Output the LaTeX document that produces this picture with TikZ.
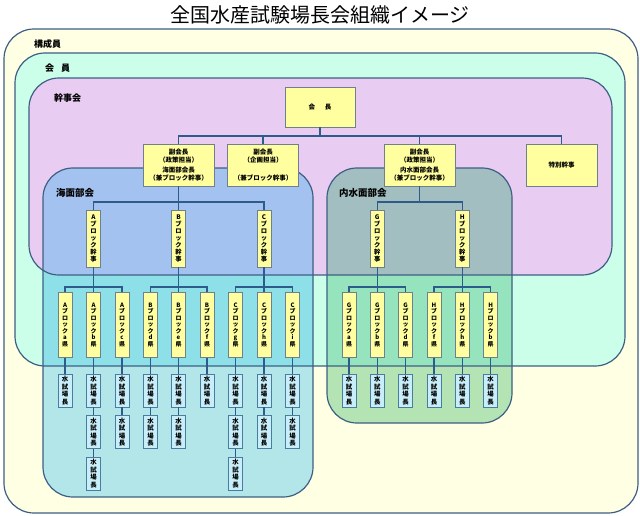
\documentclass[tikz,border=0pt]{standalone}
\usepackage{fontspec}
\setmainfont{Noto Sans CJK JP}
\definecolor{frameC}{HTML}{3E5F84}
\definecolor{connC}{HTML}{2E5C8A}
\definecolor{yboxF}{HTML}{FFFFA0}
\definecolor{yboxB}{HTML}{6E7F90}
\definecolor{stnF}{HTML}{C8EEFA}
\definecolor{stnB}{HTML}{4A7BA0}
\definecolor{outerF}{HTML}{FFFFE4}
\definecolor{kaiinF}{HTML}{CCFFEA}
\definecolor{kanjiF}{HTML}{E8CCF2}
\definecolor{seaY}{HTML}{B2E6E8}
\definecolor{seaM}{HTML}{8EE0E8}
\definecolor{seaL}{HTML}{A4C2F0}
\definecolor{inY}{HTML}{B4E4B4}
\definecolor{inM}{HTML}{96E4BE}
\definecolor{inL}{HTML}{A2BEC0}
\begin{document}
\begin{tikzpicture}[x=1pt,y=-1pt,
  frame/.style={draw=frameC, line width=1.2pt, rounded corners=30pt},
  ybox/.style={draw=yboxB, fill=yboxF, line width=0.7pt, inner sep=0pt, align=center, font=\bfseries\fontsize{6.5}{8}\selectfont},
  vp/.style={ybox, minimum width=71pt, minimum height=42pt},
  blk/.style={ybox, minimum width=14pt, minimum height=57pt, font=\bfseries\fontsize{6.3}{7.1}\selectfont},
  pref/.style={ybox, minimum width=14pt, minimum height=65pt, font=\bfseries\fontsize{6}{6.5}\selectfont},
  stn/.style={draw=stnB, fill=stnF, line width=0.7pt, inner sep=0pt, minimum width=14pt, minimum height=33pt, align=center, font=\bfseries\fontsize{6.4}{7.6}\selectfont},
  conn/.style={draw=connC, line width=1.3pt},
  lbl/.style={anchor=west, inner sep=0pt, font=\bfseries\fontsize{9}{10}\selectfont},
  sublbl/.style={anchor=west, inner sep=0pt, font=\bfseries\fontsize{9.5}{10}\selectfont}
]
\useasboundingbox (0,0) rectangle (640,515);
\fill[white] (0,0) rectangle (640,515);

% region fills
\fill[outerF, rounded corners=30pt] (4,29) rectangle (638,513);
\fill[kaiinF, rounded corners=30pt] (15,53) rectangle (625,366);
\fill[kanjiF, rounded corners=30pt] (29,78) rectangle (612,275);
\fill[seaY, rounded corners=30pt] (43,168) rectangle (313,497);
\fill[inY, rounded corners=30pt] (327,168) rectangle (512,423);
\begin{scope}
  \clip[rounded corners=30pt] (15,53) rectangle (625,366);
  \fill[seaM, rounded corners=30pt] (43,168) rectangle (313,497);
  \fill[inM, rounded corners=30pt] (327,168) rectangle (512,423);
\end{scope}
\begin{scope}
  \clip[rounded corners=30pt] (29,78) rectangle (612,275);
  \fill[seaL, rounded corners=30pt] (43,168) rectangle (313,497);
  \fill[inL, rounded corners=30pt] (327,168) rectangle (512,423);
\end{scope}
% region borders
\draw[frame] (4,29) rectangle (638,513);
\draw[frame] (15,53) rectangle (625,366);
\draw[frame] (29,78) rectangle (612,275);
\draw[frame] (43,168) rectangle (313,497);
\draw[frame] (327,168) rectangle (512,423);

% title and region labels
\node (title) at (320,15) {\fontsize{20}{22}\selectfont 全国水産試験場長会組織イメージ};
\node[lbl] (lkosei) at (34,44) {構成員};
\node[lbl] (lkaiin) at (45,68) {会\hspace{7pt}員};
\node[lbl] (lkanji) at (54,98) {幹事会};
\node[sublbl] (lsea) at (56,193) {海面部会};
\node[sublbl] (lin) at (339,193) {内水面部会};

% top nodes
\node[ybox, minimum width=70pt, minimum height=40pt] (kaicho) at (320,107) {会\hspace{10pt}長};
\node[vp] (vp1) at (178.5,165) {副会長\\（政策担当）\\[1.5pt]海面部会長\\（兼ブロック幹事）};
\node[vp] (vp2) at (263,165) {副会長\\（企画担当）\\[1.5pt]\mbox{}\\（兼ブロック幹事）};
\node[vp] (vp3) at (419.5,165) {副会長\\（政策担当）\\[1.5pt]内水面部会長\\（兼ブロック幹事）};
\node[vp] (tok) at (561.5,165) {特別幹事};

% block nodes
\node[blk] (bA) at (93.5,238.5) {A\\ブ\\ロ\\ッ\\ク\\幹\\事};
\node[blk] (bB) at (178.5,238.5) {B\\ブ\\ロ\\ッ\\ク\\幹\\事};
\node[blk] (bC) at (264,238.5) {C\\ブ\\ロ\\ッ\\ク\\幹\\事};
\node[blk] (bG) at (377.3,238.5) {G\\ブ\\ロ\\ッ\\ク\\幹\\事};
\node[blk] (bH) at (462.3,238.5) {H\\ブ\\ロ\\ッ\\ク\\幹\\事};

% prefecture nodes
\node[pref] (pa) at (65,325) {A\\ブ\\ロ\\ッ\\ク\\a\\県};
\node[pref] (pb) at (93.5,325) {A\\ブ\\ロ\\ッ\\ク\\b\\県};
\node[pref] (pc) at (122,325) {A\\ブ\\ロ\\ッ\\ク\\c\\県};
\node[pref] (pd) at (150.5,325) {B\\ブ\\ロ\\ッ\\ク\\d\\県};
\node[pref] (pe) at (178.5,325) {B\\ブ\\ロ\\ッ\\ク\\e\\県};
\node[pref] (pf) at (207,325) {B\\ブ\\ロ\\ッ\\ク\\f\\県};
\node[pref] (pg) at (235.5,325) {C\\ブ\\ロ\\ッ\\ク\\g\\県};
\node[pref] (ph) at (264,325) {C\\ブ\\ロ\\ッ\\ク\\h\\県};
\node[pref] (pi) at (292.5,325) {C\\ブ\\ロ\\ッ\\ク\\i\\県};
\node[pref] (qa) at (349,325) {G\\ブ\\ロ\\ッ\\ク\\a\\県};
\node[pref] (qb) at (377.3,325) {G\\ブ\\ロ\\ッ\\ク\\b\\県};
\node[pref] (qd) at (405.6,325) {G\\ブ\\ロ\\ッ\\ク\\d\\県};
\node[pref] (qf) at (434,325) {H\\ブ\\ロ\\ッ\\ク\\f\\県};
\node[pref] (qh) at (462.3,325) {H\\ブ\\ロ\\ッ\\ク\\h\\県};
\node[pref] (qk) at (490.6,325) {H\\ブ\\ロ\\ッ\\ク\\b\\県};

% station nodes, row 1
\node[stn] (sa1) at (65,390.5) {水\\試\\場\\長};
\node[stn] (sb1) at (93.5,390.5) {水\\試\\場\\長};
\node[stn] (sc1) at (122,390.5) {水\\試\\場\\長};
\node[stn] (sd1) at (150.5,390.5) {水\\試\\場\\長};
\node[stn] (se1) at (178.5,390.5) {水\\試\\場\\長};
\node[stn] (sf1) at (207,390.5) {水\\試\\場\\長};
\node[stn] (sg1) at (235.5,390.5) {水\\試\\場\\長};
\node[stn] (sh1) at (264,390.5) {水\\試\\場\\長};
\node[stn] (si1) at (292.5,390.5) {水\\試\\場\\長};
\node[stn] (ta1) at (349,390.5) {水\\試\\場\\長};
\node[stn] (tb1) at (377.3,390.5) {水\\試\\場\\長};
\node[stn] (td1) at (405.6,390.5) {水\\試\\場\\長};
\node[stn] (tf1) at (434,390.5) {水\\試\\場\\長};
\node[stn] (th1) at (462.3,390.5) {水\\試\\場\\長};
\node[stn] (tk1) at (490.6,390.5) {水\\試\\場\\長};
% row 2
\node[stn] (sb2) at (93.5,432) {水\\試\\場\\長};
\node[stn] (sc2) at (122,432) {水\\試\\場\\長};
\node[stn] (sd2) at (150.5,432) {水\\試\\場\\長};
\node[stn] (se2) at (178.5,432) {水\\試\\場\\長};
\node[stn] (sg2) at (235.5,432) {水\\試\\場\\長};
\node[stn] (sh2) at (264,432) {水\\試\\場\\長};
\node[stn] (si2) at (292.5,432) {水\\試\\場\\長};
% row 3
\node[stn] (sb3) at (93.5,473.5) {水\\試\\場\\長};
\node[stn] (sg3) at (235.5,473.5) {水\\試\\場\\長};

% connectors: president to vice presidents
\foreach \t in {vp1,vp2,vp3,tok}
  \draw[conn] (kaicho.south) -- ++(0,8.5) -| (\t.north);
% vice presidents to blocks
\foreach \t in {bA,bB,bC}
  \draw[conn] (vp1.south) -- ++(0,15.7) -| (\t.north);
\foreach \t in {bG,bH}
  \draw[conn] (vp3.south) -- ++(0,15.7) -| (\t.north);
% blocks to prefectures
\foreach \t in {pa,pb,pc}
  \draw[conn] (bA.south) -- ++(0,19.7) -| (\t.north);
\foreach \t in {pd,pe,pf}
  \draw[conn] (bB.south) -- ++(0,19.7) -| (\t.north);
\foreach \t in {pg,ph,pi}
  \draw[conn] (bC.south) -- ++(0,19.7) -| (\t.north);
\foreach \t in {qa,qb,qd}
  \draw[conn] (bG.south) -- ++(0,19.7) -| (\t.north);
\foreach \t in {qf,qh,qk}
  \draw[conn] (bH.south) -- ++(0,19.7) -| (\t.north);
% prefectures to stations
\foreach \p/\s in {pa/sa1,pb/sb1,pc/sc1,pd/sd1,pe/se1,pf/sf1,pg/sg1,ph/sh1,pi/si1,qa/ta1,qb/tb1,qd/td1,qf/tf1,qh/th1,qk/tk1}
  \draw[conn] (\p.south) -- (\s.north);
\foreach \a/\b in {sb1/sb2,sc1/sc2,sd1/sd2,se1/se2,sg1/sg2,sh1/sh2,si1/si2,sb2/sb3,sg2/sg3}
  \draw[conn] (\a.south) -- (\b.north);
\end{tikzpicture}
\end{document}
